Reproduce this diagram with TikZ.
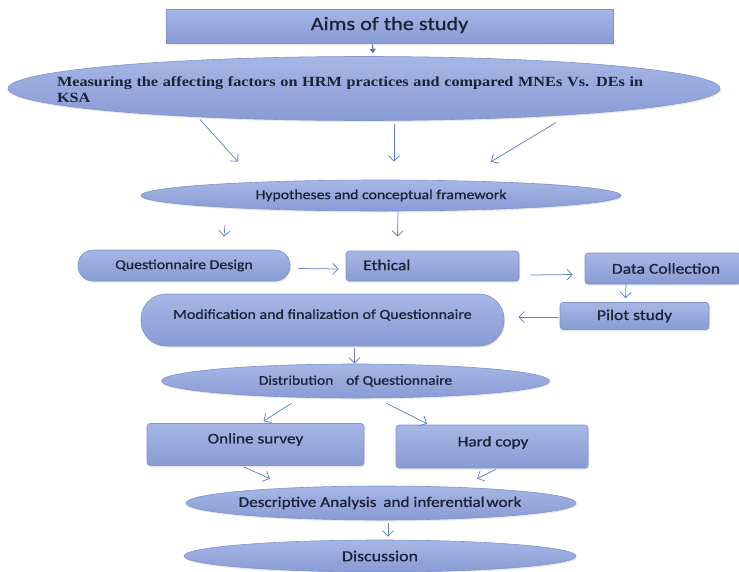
\documentclass[tikz,border=0pt]{standalone}
\usepackage{fontspec}
\setmainfont{Liberation Serif}
\newfontfamily\carlitofont{Carlito}[FakeStretch=1.17, FakeBold=0.7]
\newfontfamily\serifwide{Liberation Serif}[FakeStretch=1.16]
\usetikzlibrary{calc,arrows.meta,shapes.geometric,shadows}
\definecolor{ftop}{HTML}{A6B6E5}
\definecolor{fbot}{HTML}{889BD4}
\definecolor{bord}{HTML}{8194CE}
\definecolor{txt}{HTML}{1A2236}
\definecolor{arr}{HTML}{6282CB}
\tikzset{
  box/.style={draw=bord, line width=0.6pt, top color=ftop, bottom color=fbot, inner sep=0pt,
     drop shadow={opacity=0.18, shadow xshift=1pt, shadow yshift=-1.5pt}},
  ell/.style={box, ellipse},
  stad/.style={box, rectangle, rounded corners=#1},
  rbox/.style={box, rectangle, rounded corners=3pt},
  lab/.style={text=txt, font=\carlitofont\fontsize{#1}{#1}\selectfont},
  lab/.default=14,
  conn/.style={draw=arr, line width=0.75pt, -{Straight Barb[length=5.5pt,width=11pt]}},
}
\begin{document}
\begin{tikzpicture}[x=1pt,y=-1pt]
\useasboundingbox[fill=white] (0,0) rectangle (739,571);

\node[box, rectangle, minimum width=447, minimum height=34] (aims) at (389.5,26) {};
\node[lab=19] at ($(aims)+(0,-1)$) {Aims of the study};

\node[ell, minimum width=712, minimum height=64] (e1) at (364,88.5) {};
\node[text=txt, text width=640, align=left, font=\serifwide\bfseries\fontsize{14}{15.5}\selectfont] at ($(e1.center)+(13,1)$)
  {Measuring the affecting factors on HRM practices and compared MNEs Vs. DEs in\\KSA};

\node[ell, minimum width=480, minimum height=31] (hyp) at (381,195.5) {};
\node[lab=13.5] at (hyp) {Hypotheses and conceptual framework};

\node[stad=15pt, minimum width=212, minimum height=31] (qd) at (184,265.5) {};
\node[lab=13.5] at (qd) {Questionnaire Design};

\node[rbox, minimum width=173, minimum height=30] (eth) at (432.5,266) {};
\node[lab=15, anchor=west] at ($(eth.west)+(14,-1)$) {Ethical};

\node[rbox, minimum width=156, minimum height=31] (dc) at (663,268.5) {};
\node[lab=15] at ($(dc)+(3,0)$) {Data Collection};

\node[rbox, minimum width=149, minimum height=27] (pilot) at (634.5,316) {};
\node[lab=15] at (pilot) {Pilot study};

\node[stad=25pt, minimum width=363, minimum height=52] (mod) at (322.5,320) {};
\node[lab=13.7] at ($(mod)+(0,-5)$) {Modification and finalization of Questionnaire};

\node[ell, minimum width=388, minimum height=34] (dist) at (355.5,381) {};
\node[lab=13.3] at (dist) {Distribution\hspace{0.7em} of Questionnaire};

\node[rbox, minimum width=217, minimum height=42] (online) at (255.5,444.5) {};
\node[lab=14.7] at ($(online)+(0,-5)$) {Online survey};

\node[rbox, minimum width=192, minimum height=43] (hard) at (492,446.5) {};
\node[lab=14.7] at ($(hard)+(1,-4)$) {Hard copy};

\node[ell, minimum width=390, minimum height=34] (desc) at (381,503) {};
\node[lab=14.7] at ($(desc)+(-1,0)$) {Descriptive Analysis\hspace{0.2em} and inferential\hspace{-0.15em} work};

\node[ell, minimum width=392, minimum height=32] (disc) at (380,556) {};
\node[lab=15.3] at (disc) {Discussion};

% connectors
\draw[draw=arr!85!black, line width=0.9pt, -{Triangle[length=4.5pt,width=6pt]}] ($(aims.south)+(-17,1)$) -- ($(e1.north)+(9,-3)$);
\draw[conn] ($(e1.center)+(-164,31)$) -- ($(hyp.north)+(-143,-18)$);
\draw[conn] ($(e1.center)+(30,35)$) -- ($(hyp.north)+(13,-18)$);
\draw[conn] ($(e1.center)+(192,34)$) -- ($(hyp.north)+(110,-18)$);
\draw[conn] ($(hyp.south)+(-156,14)$) -- ($(qd.north)+(40,-13)$);
\draw[conn] ($(hyp.south)+(17,0)$) -- ($(eth.north)+(-35,-14)$);
\draw[conn] ($(qd.east)+(8,3)$) -- ($(eth.west)+(-7,3)$);
\draw[conn] ($(eth.east)+(11,9)$) -- ($(dc.west)+(-12,6)$);
\draw[conn] ($(dc.south)+(-37,0)$) -- ($(pilot.north)+(-9,-4)$);
\draw[conn] ($(pilot.west)+(-1,1)$) -- ($(mod.east)+(14,-3)$);
\draw[conn] ($(mod.south)+(32,2)$) -- ($(dist.north)+(-1,0)$);
\draw[conn] ($(dist.south)+(-64,5)$) -- ($(online.north)+(8,-2)$);
\draw[conn] ($(dist.south)+(31,5)$) -- ($(hard.north)+(-65,-1)$);
\draw[conn] ($(online.south)+(-12,1)$) -- ($(desc.north)+(-111,-7)$);
\draw[conn] ($(hard.south)+(4,1)$) -- ($(desc.north)+(96,-7)$);
\draw[conn] ($(desc.south)+(7,3)$) -- ($(disc.north)+(8,-3)$);
\end{tikzpicture}
\end{document}
